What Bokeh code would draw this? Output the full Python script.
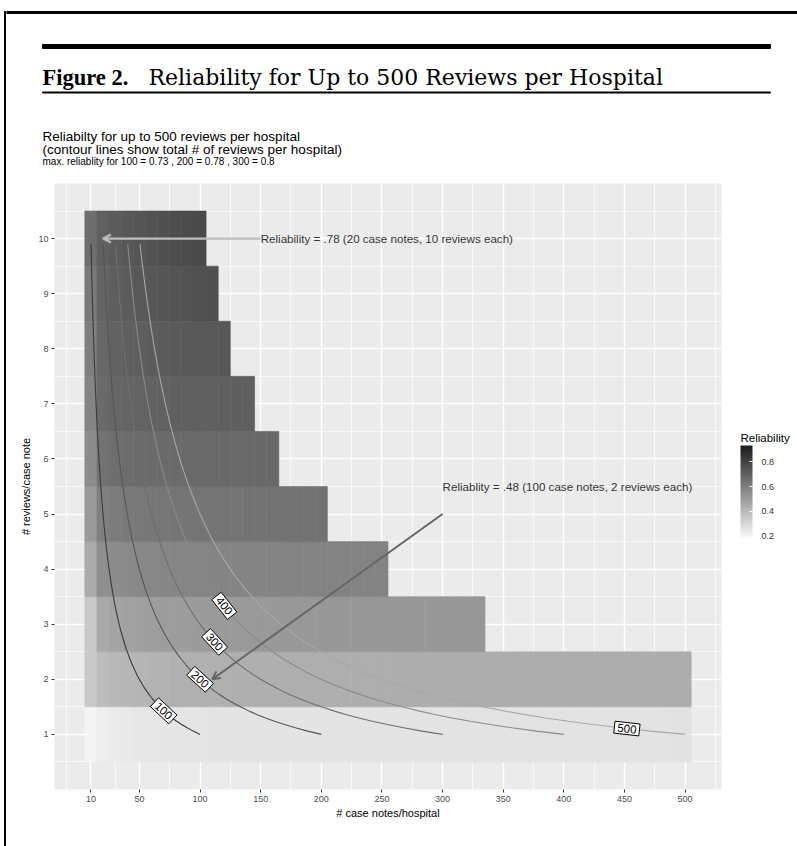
import numpy as np
from bokeh.plotting import figure
from bokeh.models import (Range1d, FixedTicker, ColorBar, LinearColorMapper, Arrow,
                          OpenHead, ColumnDataSource)
from bokeh.layouts import column, row
from bokeh.core.properties import value
from bokeh.embed import file_html
from bokeh.resources import INLINE

# ---------------- data ----------------
case_note_step = 10          # case notes per hospital: 10, 20, 30, ...
reviews_per_note = [1, 2, 3, 4, 5, 6, 7, 8, 9, 10]

rel_r1 = [.198, .222, .235, .243, .248, .252, .255, .257, .258, .259,
          .260, .261, .261, .262, .262, .263, .263, .263, .264, .264,
          .264, .264, .265, .265, .265, .265, .265, .266, .266, .266,
          .266, .266, .266, .267, .267, .267, .267, .267, .267, .267,
          .268, .268, .268, .268, .268, .268, .268, .268, .269, .269]
rel_r2 = [.370, .420, .435, .443, .449, .454, .458, .462, .465, .468,
          .469, .470, .471, .472, .472, .473, .473, .474, .474, .475,
          .475, .475, .476, .476, .476, .476, .477, .477, .477, .477,
          .477, .478, .478, .478, .478, .478, .478, .479, .479, .479,
          .479, .479, .479, .479, .480, .480, .480, .480, .480, .480]
rel_r3 = [.368, .495, .515, .525, .532, .537, .541, .545, .548, .550,
          .552, .554, .556, .557, .558, .559, .560, .561, .562, .563,
          .564, .564, .565, .566, .566, .567, .567, .568, .568, .569,
          .569, .570, .570]
rel_r4 = [.487, .598, .612, .620, .626, .630, .633, .635, .637, .638,
          .639, .640, .641, .641, .642, .642, .643, .643, .643, .644,
          .644, .644, .645, .645, .645]
rel_r5 = [.554, .657, .673, .682, .688, .692, .696, .699, .701, .703,
          .705, .706, .707, .708, .709, .710, .711, .711, .712, .713]
rel_r6 = [.610, .713, .727, .734, .738, .741, .743, .745, .746, .747,
          .748, .749, .750, .751, .751, .752]
rel_r7 = [.641, .744, .759, .767, .772, .776, .779, .781, .783, .784,
          .785, .786, .787, .788]
rel_r8 = [.661, .755, .775, .786, .793, .798, .803, .807, .810, .813,
          .816, .819]
rel_r9 = [.685, .768, .790, .803, .812, .819, .825, .831, .836, .842, .847]
rel_r10 = [.730, .780, .800, .815, .828, .839, .849, .857, .864, .871]
rel_rows = [rel_r1, rel_r2, rel_r3, rel_r4, rel_r5, rel_r6, rel_r7, rel_r8, rel_r9, rel_r10]

contour_totals = [100, 200, 300, 400, 500]
contour_label_x = [70, 100, 112, 120, 452]
contour_y_top = 9.9

x_ticks = [10, 50, 100, 150, 200, 250, 300, 350, 400, 450, 500]
y_ticks = [1, 2, 3, 4, 5, 6, 7, 8, 9, 10]
legend_ticks = [0.2, 0.4, 0.6, 0.8]
legend_limits = [0.19, 0.93]

note1_text = "Reliability = .78 (20 case notes, 10 reviews each)"
note1_text_xy = (150, 10)
note1_tip = (20, 10)
note2_text = "Reliablity = .48 (100 case notes, 2 reviews each)"
note2_text_xy = (300, 5.5)
note2_start = (300, 5)
note2_tip = (110, 2)

fig_heading_bold = "Figure 2."
fig_heading = "Reliability for Up to 500 Reviews per Hospital"
title1 = "Reliabilty for up to 500 reviews per hospital"
title2 = "(contour lines show total # of reviews per hospital)"
subtitle = "max. reliablity for 100 = 0.73 , 200 = 0.78 , 300 = 0.8"
legend_title = "Reliability"

# ---------------- styling helpers ----------------
SANS = value("Liberation Sans")
SERIF = value("DejaVu Serif")
SERIF_B = value("Liberation Serif")
PANEL_BG = (235, 235, 235)
TILE_ALPHA = 0.85
LOW_RGB = np.array([248, 248, 248])
HIGH_RGB = np.array([28, 28, 28])


def hexc(c):
    c = np.clip(np.round(c), 0, 255).astype(int)
    return "#%02x%02x%02x" % tuple(c)


ramp = np.linspace(0, 1, 256)
legend_palette = [hexc(LOW_RGB + (HIGH_RGB - LOW_RGB) * t) for t in ramp]
tile_palette = [hexc(TILE_ALPHA * (LOW_RGB + (HIGH_RGB - LOW_RGB) * t)
                     + (1 - TILE_ALPHA) * np.array(PANEL_BG)) for t in ramp]

legend_mapper = LinearColorMapper(palette=legend_palette, low=legend_limits[0], high=legend_limits[1])
tile_mapper = LinearColorMapper(palette=tile_palette, low=legend_limits[0], high=legend_limits[1])

# tiles
tx, ty, tv = [], [], []
for k, vals in zip(reviews_per_note, rel_rows):
    for i, v in enumerate(vals):
        tx.append(case_note_step * (i + 1))
        ty.append(k)
        tv.append(v)
tiles = ColumnDataSource(dict(x=tx, y=ty, rel=tv))

xmin_d = min(tx) - case_note_step / 2
xmax_d = max(tx) + case_note_step / 2
ymin_d = min(ty) - 0.5
ymax_d = max(ty) + 0.5
xr = Range1d(xmin_d - 0.05 * (xmax_d - xmin_d), xmax_d + 0.05 * (xmax_d - xmin_d))
yr = Range1d(ymin_d - 0.05 * (ymax_d - ymin_d), ymax_d + 0.05 * (ymax_d - ymin_d))

# ---------------- layout sizes (page pixels) ----------------
STRIP_W = 6
W = 791
HDR_H = 175
MAIN_H = 671
ML, MR, MT, MB = 48, 76, 8, 57
FRAME_W = W - ML - MR
FRAME_H = MAIN_H - MT - MB


def bare(fig):
    fig.grid.visible = False
    fig.outline_line_color = None
    fig.background_fill_color = "white"
    fig.border_fill_color = "white"
    fig.frame_align = False


# ---------------- header figure ----------------
hdr = figure(width=W, height=HDR_H, x_range=Range1d(0, W), y_range=Range1d(HDR_H, 0),
             output_backend="svg", toolbar_location=None, min_border=0,
             x_axis_location=None, y_axis_location=None)
bare(hdr)
hdr.quad(left=[0], right=[W], top=[11], bottom=[13], color="black")
hdr.quad(left=[36], right=[764], top=[44], bottom=[48], color="black")
hdr.quad(left=[36], right=[764], top=[91.5], bottom=[92.5], color="black")
hdr.text(x=[36], y=[77], text=[fig_heading_bold], text_font=SERIF_B,
         text_font_style="bold", text_font_size="22.5px", text_baseline="alphabetic",
         text_color="black")
hdr.text(x=[142], y=[77], text=[fig_heading], text_font=SERIF,
         text_font_size="22px", text_baseline="alphabetic", text_color="black")
hdr.text(x=[36, 36], y=[136, 149], text=[title1, title2], text_font=SANS,
         text_font_size="13.5px", text_baseline="middle", text_color="black")
hdr.text(x=[36], y=[161], text=[subtitle], text_font=SANS,
         text_font_size="10px", text_baseline="middle", text_color="black")

# ---------------- main figure ----------------
p = figure(width=W, height=MAIN_H, x_range=xr, y_range=yr, output_backend="svg",
           toolbar_location=None, min_border_left=ML, min_border_right=MR,
           min_border_top=MT, min_border_bottom=MB)
p.background_fill_color = "#EBEBEB"
p.border_fill_color = "white"
p.outline_line_color = None
p.frame_align = False

x_minor = [-10, 30, 75] + [t + 25 for t in x_ticks[2:]]
y_minor = [t - 0.5 for t in y_ticks] + [y_ticks[-1] + 0.5]
p.xaxis.ticker = FixedTicker(ticks=x_ticks, minor_ticks=x_minor)
p.yaxis.ticker = FixedTicker(ticks=y_ticks, minor_ticks=y_minor)
for g in (p.xgrid, p.ygrid):
    g.grid_line_color = "white"
    g.grid_line_width = 1.4
    g.minor_grid_line_color = "white"
    g.minor_grid_line_width = 0.7

for ax in (p.xaxis, p.yaxis):
    ax.axis_line_color = None
    ax.major_tick_line_color = "#333333"
    ax.major_tick_out = 3
    ax.major_tick_in = 0
    ax.minor_tick_line_color = None
    ax.major_label_text_font = "Liberation Sans"
    ax.major_label_text_font_size = "9px"
    ax.major_label_text_color = "#4D4D4D"
    ax.major_label_standoff = 2
    ax.axis_label_text_font = "Liberation Sans"
    ax.axis_label_text_font_size = "11px"
    ax.axis_label_text_font_style = "normal"
    ax.axis_label_text_color = "black"
p.xaxis.axis_label_standoff = 2
p.yaxis.axis_label_standoff = 3
p.xaxis.axis_label = "# case notes/hospital"
p.yaxis.axis_label = "# reviews/case note"

p.rect(x="x", y="y", width=case_note_step, height=1, source=tiles,
       fill_color={"field": "rel", "transform": tile_mapper},
       line_color={"field": "rel", "transform": tile_mapper}, line_width=0.6)

contour_colors = ["#3a3a3a", "#555555", "#6e6e6e", "#8a8a8a", "#a8a8a8"]
ys = np.linspace(min(y_ticks), contour_y_top, 150)
for T, c in zip(contour_totals, contour_colors):
    p.line(x=T / ys, y=ys, line_color=c, line_width=1.1)

# contour labels rotated along the curves
px_per_x = FRAME_W / (xr.end - xr.start)
px_per_y = FRAME_H / (yr.end - yr.start)
lab_x = np.array(contour_label_x, dtype=float)
lab_T = np.array(contour_totals, dtype=float)
lab_y = lab_T / lab_x
lab_ang = np.arctan((-lab_T / lab_x ** 2) * px_per_y / px_per_x)
p.text(x=lab_x, y=lab_y, text=[str(t) for t in contour_totals], angle=lab_ang,
       text_align="center", text_baseline="middle", text_font=SANS,
       text_font_size="11.5px", text_color="black",
       background_fill_color="white", border_line_color="black",
       border_line_width=1, padding=(3, 2))

# annotations
p.add_layout(Arrow(end=OpenHead(size=8, line_color="#bdbdbd", line_width=2.2),
                   x_start=note1_text_xy[0], y_start=note1_text_xy[1],
                   x_end=note1_tip[0], y_end=note1_tip[1],
                   line_color="#bdbdbd", line_width=2.2))
p.add_layout(Arrow(end=OpenHead(size=8, line_color="#666666", line_width=2),
                   x_start=note2_start[0], y_start=note2_start[1],
                   x_end=note2_tip[0], y_end=note2_tip[1],
                   line_color="#666666", line_width=2))
p.text(x=[note1_text_xy[0], note2_text_xy[0]], y=[note1_text_xy[1], note2_text_xy[1]],
       text=[note1_text, note2_text], text_align="left", text_baseline="middle",
       text_font=SANS, text_font_size="11.6px", text_color="#333333")

# legend (colour bar + title)
LEG_DX = 19           # gap between panel and legend bar, px
LEG_BAR_BOTTOM = 252  # px above panel bottom
LEG_BAR_H = 92
cb = ColorBar(color_mapper=legend_mapper, ticker=FixedTicker(ticks=legend_ticks),
              width=12, height=LEG_BAR_H, title=None,
              major_label_text_font="Liberation Sans", major_label_text_font_size="9px",
              major_label_text_color="#333333", label_standoff=9,
              major_tick_line_color="white", major_tick_in=3, major_tick_out=0,
              minor_tick_line_color=None, bar_line_color=None,
              background_fill_color=None, border_line_color=None,
              padding=0, margin=0, location=(FRAME_W + LEG_DX, LEG_BAR_BOTTOM))
p.add_layout(cb, "center")
# legend title: a horizontal colour bar whose scale is hidden, so only its title shows
cb_title = ColorBar(color_mapper=legend_mapper, ticker=FixedTicker(ticks=[]),
                    orientation="horizontal", width=1, height=1, title=legend_title,
                    title_text_font="Liberation Sans", title_text_font_size="11.5px",
                    title_text_font_style="normal", title_text_color="black",
                    title_standoff=0, scale_alpha=0, major_label_text_alpha=0,
                    major_label_text_font_size="1px", label_standoff=0,
                    major_tick_line_color=None, minor_tick_line_color=None,
                    bar_line_color=None, background_fill_color=None,
                    border_line_color=None, padding=0, margin=0,
                    location=(FRAME_W + LEG_DX, LEG_BAR_BOTTOM + LEG_BAR_H + 1))
p.add_layout(cb_title, "center")

# left page rule
strip = figure(width=STRIP_W, height=HDR_H + MAIN_H, x_range=Range1d(0, STRIP_W),
               y_range=Range1d(HDR_H + MAIN_H, 0), output_backend="svg",
               toolbar_location=None, min_border=0, x_axis_location=None, y_axis_location=None)
bare(strip)
strip.quad(left=[4], right=[6], top=[11], bottom=[HDR_H + MAIN_H], color="black")

layout = row(strip, column(hdr, p))
open("out.html", "w").write(file_html(layout, INLINE))
